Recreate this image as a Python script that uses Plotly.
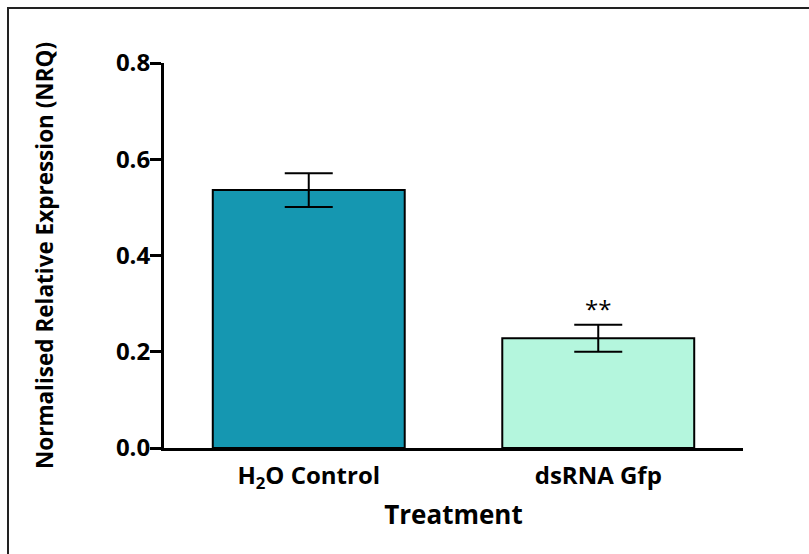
import plotly.graph_objects as go

categories = ["H<sub>2</sub>O Control", "dsRNA Gfp"]
values = [0.536, 0.228]
errors = [0.035, 0.028]
bar_colors = ["#1597B1", "#B4F6DD"]
significance = ["", "**"]
y_ticks = [0.0, 0.2, 0.4, 0.6, 0.8]
y_tick_labels = ["0.0", "0.2", "0.4", "0.6", "0.8"]

FONT = "Open Sans"

fig = go.Figure()
fig.add_trace(go.Bar(
    x=categories, y=values,
    marker=dict(color=bar_colors, line=dict(color="black", width=2)),
    width=0.663,
    error_y=dict(type="data", array=errors, visible=True, color="black", thickness=2, width=24),
    showlegend=False,
))

for c, v, e, s in zip(categories, values, errors, significance):
    if s:
        fig.add_annotation(x=c, y=v + e, text=s, showarrow=False, yanchor="bottom", yshift=-2,
                           font=dict(family=FONT, size=24, color="black"))

fig.update_layout(
    width=809, height=554,
    margin=dict(l=164, r=66, t=63, b=106),
    paper_bgcolor="white", plot_bgcolor="white",
    font=dict(family=FONT, color="black"),
    bargap=0.337,
    xaxis=dict(
        range=[-0.5, 1.5], showline=True, linewidth=3, linecolor="black",
        ticks="", showgrid=False, zeroline=False,
        tickvals=categories, ticktext=["<b>%s</b>" % c for c in categories],
        tickfont=dict(family=FONT, size=24, color="black"),
        ticklabelstandoff=4,
        title=dict(text="<b>Treatment</b>", font=dict(family=FONT, size=26, color="black"), standoff=13),
    ),
    yaxis=dict(
        range=[0, 0.8], showline=True, linewidth=3, linecolor="black",
        ticks="outside", ticklen=11, tickwidth=2.5, tickcolor="black",
        tickvals=y_ticks, ticktext=["<b>%s</b>" % t for t in y_tick_labels],
        tickfont=dict(family=FONT, size=24, color="black"),
        ticklabelstandoff=-5,
        showgrid=False, zeroline=False,
        title=dict(text="<b>Normalised Relative Expression (NRQ)</b>", font=dict(family=FONT, size=22.5, color="black"), standoff=57),
    ),
    shapes=[dict(type="rect", xref="paper", yref="paper",
                 x0=-156/579, x1=1.2, y0=-0.4, y1=440/385,
                 line=dict(color="#222222", width=2), layer="above")],
)

fig.write_html("out.html")
